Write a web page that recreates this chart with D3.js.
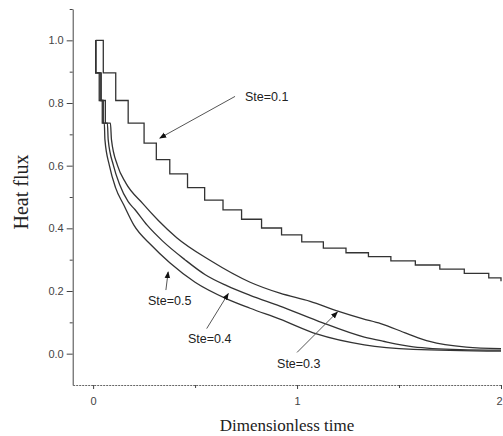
<!DOCTYPE html>
<html lang="en">
<head>
<meta charset="utf-8">
<title>Heat flux vs dimensionless time</title>
<script src="https://cdn.jsdelivr.net/npm/d3@7"></script>
<style>
  body { margin: 0; background: #fff; }
  svg text.tick-lbl { font-family: "Liberation Sans", Arial, sans-serif; font-size: 11px; fill: #444; }
  svg text.title { font-family: "Liberation Serif", "Times New Roman", serif; font-size: 17px; fill: #222; }
  svg text.note { font-family: "Liberation Sans", Arial, sans-serif; font-size: 12.5px; fill: #222; }
</style>
</head>
<body>
<div id="chart"></div>
<script>
// tick values
var xMajor = [0, 1, 2];
var xMinor = [0.5, 1.5];
var yMajor = [0, 0.2, 0.4, 0.6, 0.8, 1.0];
var yMinor = [0.1, 0.3, 0.5, 0.7, 0.9, 1.1];

// Ste=0.1 : stepped curve, [time, flux] at each step
var ste01 = [[0.013,1.0],[0.05,0.896],[0.111,0.808],[0.172,0.736],[0.25,0.672],[0.31,0.619],
  [0.376,0.574],[0.463,0.53],[0.547,0.49],[0.637,0.459],[0.728,0.429],[0.826,0.401],
  [0.924,0.379],[1.023,0.357],[1.129,0.337],[1.24,0.322],[1.35,0.31],[1.46,0.296],
  [1.58,0.283],[1.70,0.27],[1.82,0.256],[1.94,0.242],[2.0,0.231]];

// Ste=0.3 (upper smooth curve)
var ste03 = [[0.013,1.0],[0.013,0.896],[0.04,0.896],[0.04,0.808],[0.06,0.808],[0.06,0.736],
  [0.085,0.736],[0.09,0.683],[0.12,0.6],[0.16,0.545],[0.245,0.478],[0.32,0.425],[0.41,0.37],
  [0.573,0.298],[0.77,0.228],[0.916,0.193],[1.064,0.167],[1.2,0.136],[1.32,0.112],[1.41,0.096],
  [1.54,0.064],[1.65,0.039],[1.83,0.021],[2.0,0.016]];

// Ste=0.4 (middle)
var ste04 = [[0.013,1.0],[0.013,0.896],[0.035,0.896],[0.035,0.808],[0.05,0.808],[0.05,0.736],
  [0.07,0.736],[0.074,0.683],[0.1,0.6],[0.13,0.54],[0.172,0.485],[0.205,0.46],[0.265,0.41],
  [0.34,0.36],[0.45,0.3],[0.55,0.252],[0.655,0.217],[0.77,0.186],[0.916,0.152],[1.1,0.105],
  [1.33,0.053],[1.42,0.04],[1.57,0.022],[1.8,0.013],[2.0,0.011]];

// Ste=0.5 (lowest)
var ste05 = [[0.013,1.0],[0.013,0.896],[0.03,0.896],[0.03,0.808],[0.045,0.808],[0.045,0.736],
  [0.055,0.736],[0.058,0.683],[0.08,0.6],[0.11,0.53],[0.15,0.475],[0.2,0.41],[0.287,0.345],
  [0.376,0.29],[0.5,0.228],[0.655,0.175],[0.77,0.145],[0.916,0.11],[1.1,0.062],[1.33,0.028],
  [1.57,0.014],[2.0,0.008]];

// annotations: label, text anchor, arrow tail, arrow tip (data coords)
var notes = [
  {label: "Ste=0.1", text: [0.745, 0.807], from: [0.696, 0.821], to: [0.327, 0.688]},
  {label: "Ste=0.5", text: [0.269, 0.155], from: [0.357, 0.203], to: [0.368, 0.261]},
  {label: "Ste=0.4", text: [0.465, 0.033], from: [0.557, 0.08], to: [0.663, 0.192]},
  {label: "Ste=0.3", text: [0.902, -0.047], from: [1.0, 0.004], to: [1.198, 0.133]}
];

var width = 503, height = 436;
var svg = d3.select("#chart").append("svg")
    .attr("width", width)
    .attr("height", height);

var x = d3.scaleLinear().domain([-0.1, 2]).range([72.7, 501]);
var y = d3.scaleLinear().domain([-0.1, 1.1]).range([385, 9]);

svg.append("defs").append("marker")
    .attr("id", "arrow")
    .attr("viewBox", "0 0 10 10")
    .attr("refX", 9).attr("refY", 5)
    .attr("markerWidth", 7).attr("markerHeight", 7)
    .attr("markerUnits", "userSpaceOnUse")
    .attr("orient", "auto")
  .append("path")
    .attr("d", "M0,1 L10,5 L0,9 z")
    .attr("fill", "#111");

// axes
var yAxis = svg.append("g")
    .attr("transform", "translate(" + x(-0.1) + ",0)")
    .call(d3.axisLeft(y).tickValues(yMajor).tickSize(6).tickSizeOuter(0).tickPadding(3)
      .tickFormat(d3.format(".1f")));
yAxis.selectAll(".tick text").attr("class", "tick-lbl").attr("font-size", null).attr("font-family", null);

svg.append("g")
    .attr("transform", "translate(" + x(-0.1) + ",0)")
    .call(d3.axisLeft(y).tickValues(yMinor).tickSize(3).tickSizeOuter(0).tickFormat(""))
    .select(".domain").remove();

var xAxis = svg.append("g")
    .attr("transform", "translate(0," + y(-0.1) + ")")
    .call(d3.axisBottom(x).tickValues(xMajor).tickSize(4).tickSizeOuter(0).tickPadding(8)
      .tickFormat(d3.format("d")));
xAxis.selectAll(".tick text").attr("class", "tick-lbl").attr("font-size", null).attr("font-family", null);
// last label sits at the right edge, nudge it in a little so it stays visible
xAxis.selectAll(".tick text").filter(function(d) { return d === 2; }).attr("dx", "-2");
xAxis.select(".domain").attr("stroke", "#666").attr("stroke-dasharray", "2,1");

svg.append("g")
    .attr("transform", "translate(0," + y(-0.1) + ")")
    .call(d3.axisBottom(x).tickValues(xMinor).tickSize(3).tickSizeOuter(0).tickFormat(""))
    .select(".domain").remove();

svg.selectAll(".tick line").attr("stroke", "#444");
yAxis.select(".domain").attr("stroke", "#444");

// curves
var stepLine = d3.line()
    .x(function(d) { return x(d[0]); })
    .y(function(d) { return y(d[1]); })
    .curve(d3.curveStepAfter);

var smoothLine = d3.line()
    .x(function(d) { return x(d[0]); })
    .y(function(d) { return y(d[1]); })
    .curve(d3.curveMonotoneX);

svg.append("path")
    .datum(ste01)
    .attr("d", stepLine)
    .attr("fill", "none")
    .attr("stroke", "#333")
    .attr("stroke-width", 1.3);

[ste03, ste04, ste05].forEach(function(s) {
  svg.append("path")
      .datum(s)
      .attr("d", smoothLine)
      .attr("fill", "none")
      .attr("stroke", "#333")
      .attr("stroke-width", 1.3);
});

// annotations
svg.selectAll("line.arrow")
    .data(notes)
    .enter()
    .append("line")
    .attr("class", "arrow")
    .attr("x1", function(d) { return x(d.from[0]); })
    .attr("y1", function(d) { return y(d.from[1]); })
    .attr("x2", function(d) { return x(d.to[0]); })
    .attr("y2", function(d) { return y(d.to[1]); })
    .attr("stroke", "#555")
    .attr("stroke-width", 1)
    .attr("marker-end", "url(#arrow)");

svg.selectAll("text.note")
    .data(notes)
    .enter()
    .append("text")
    .attr("class", "note")
    .attr("x", function(d) { return x(d.text[0]); })
    .attr("y", function(d) { return y(d.text[1]); })
    .text(function(d) { return d.label; });

// axis titles
svg.append("text")
    .attr("class", "title")
    .attr("text-anchor", "middle")
    .attr("font-size", "20px")
    .style("font-size", "20px")
    .attr("transform", "translate(28,192) rotate(-90)")
    .text("Heat flux");

svg.append("text")
    .attr("class", "title")
    .attr("text-anchor", "middle")
    .attr("x", 287)
    .attr("y", 431)
    .text("Dimensionless time");
</script>
</body>
</html>
